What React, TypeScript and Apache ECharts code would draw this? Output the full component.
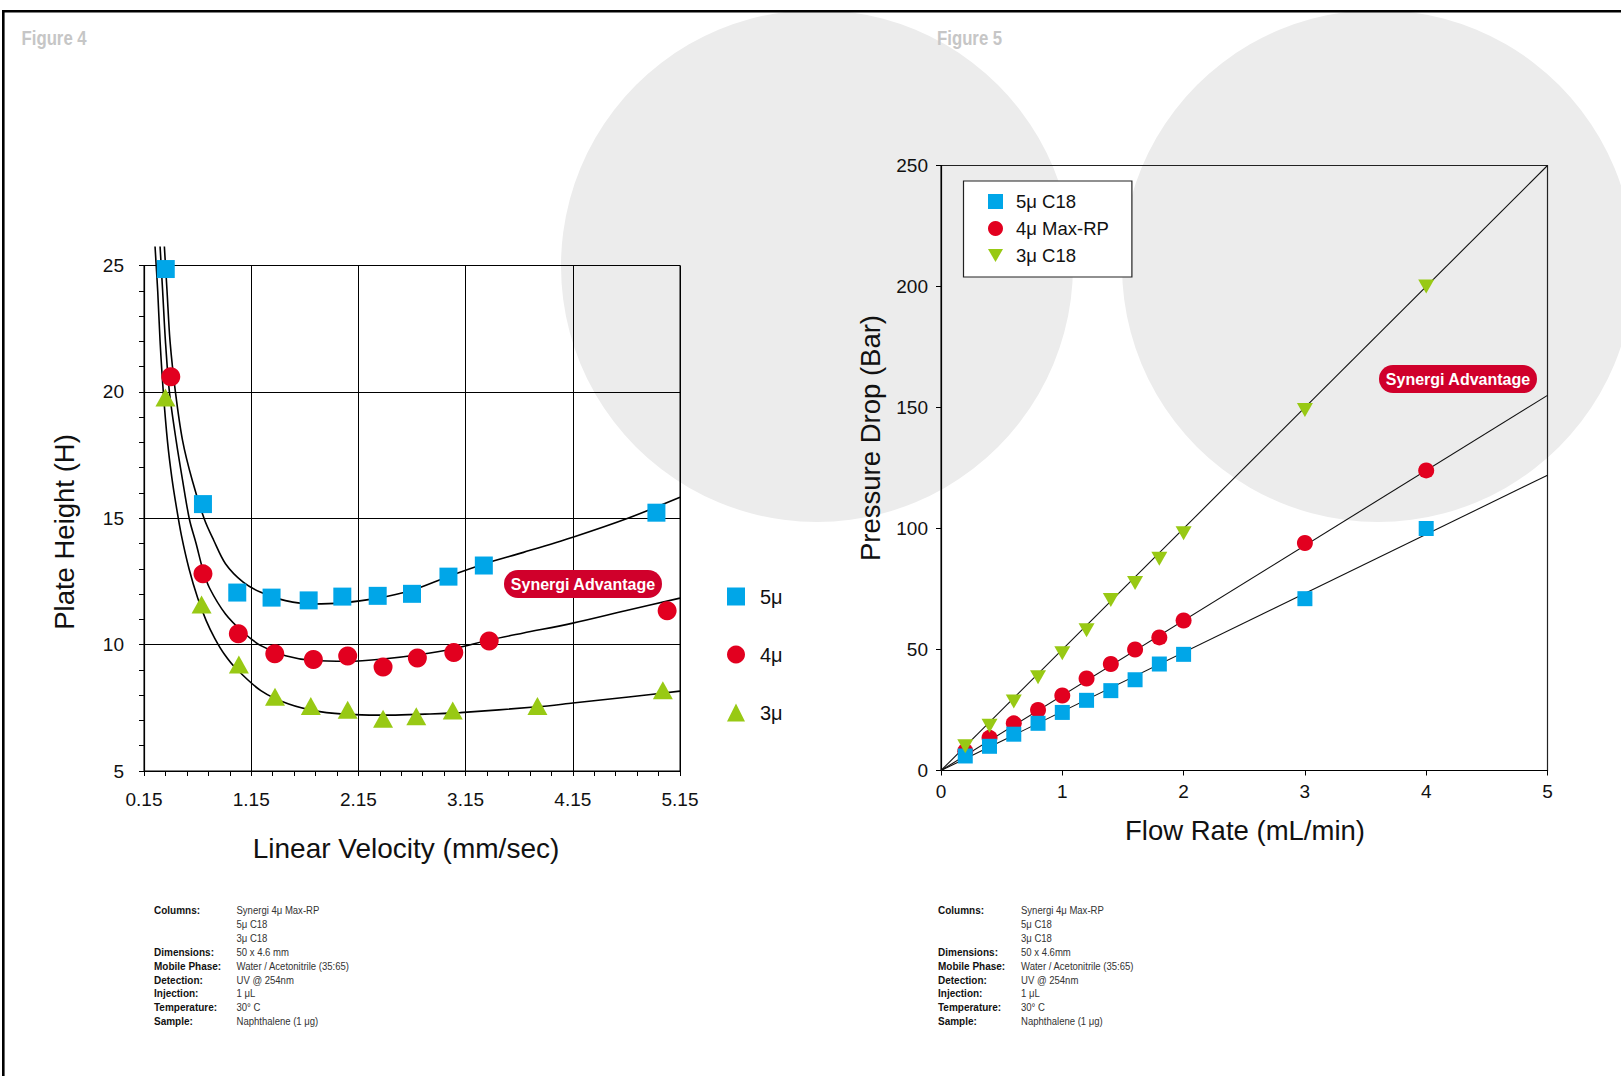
import React, { useEffect, useRef } from "react";
import * as echarts from "echarts";

// ---------- Figure 4 data (Linear velocity vs plate height) ----------
const pts5u: number[][] = [
  [0.353, 24.86], [0.7, 15.56], [1.02, 12.06], [1.34, 11.86], [1.686, 11.75], [2.0, 11.9],
  [2.33, 11.93], [2.65, 12.01], [2.99, 12.69], [3.32, 13.13], [4.93, 15.22],
];
const pts4u: number[][] = [
  [0.4, 20.6], [0.7, 12.8], [1.03, 10.43], [1.37, 9.64], [1.73, 9.41], [2.05, 9.55],
  [2.38, 9.11], [2.7, 9.47], [3.04, 9.69], [3.37, 10.14], [5.03, 11.34],
];
const pts3u: number[][] = [
  [0.35, 19.78], [0.687, 11.59], [1.035, 9.21], [1.372, 7.94], [1.706, 7.57], [2.05, 7.42],
  [2.38, 7.07], [2.69, 7.17], [3.03, 7.39], [3.82, 7.57], [4.99, 8.19],
];
const curve5u: number[][] = [
  [0.34, 25.75], [0.365, 23.98], [0.393, 22.0], [0.443, 20.0], [0.51, 18.07], [0.6, 16.5],
  [0.714, 14.95], [0.8, 14.13], [0.91, 13.2], [1.075, 12.47], [1.24, 12.07], [1.47, 11.74],
  [1.73, 11.61], [1.99, 11.65], [2.32, 11.83], [2.64, 12.14], [2.99, 12.7], [3.33, 13.2],
  [3.69, 13.65], [4.15, 14.25], [4.67, 15.01], [5.15, 15.83],
];
const curve4u: number[][] = [
  [0.3, 25.75], [0.324, 23.98], [0.35, 22.0], [0.387, 20.0], [0.45, 18.07], [0.51, 16.5],
  [0.574, 14.95], [0.636, 14.0], [0.7, 12.95], [0.76, 12.25], [0.91, 11.21], [1.075, 10.49],
  [1.24, 9.96], [1.47, 9.56], [1.73, 9.37], [2.055, 9.34], [2.38, 9.43], [2.71, 9.6],
  [3.04, 9.84], [3.38, 10.19], [3.69, 10.46], [4.15, 10.85], [4.64, 11.34], [5.15, 11.84],
];
const curve3u: number[][] = [
  [0.253, 25.75], [0.278, 23.98], [0.3, 22.0], [0.33, 20.0], [0.37, 18.0], [0.41, 16.6],
  [0.45, 15.5], [0.5, 14.3], [0.57, 13.0], [0.65, 11.85], [0.73, 10.95], [0.81, 10.25],
  [0.9, 9.62], [1.01, 9.05], [1.24, 8.18], [1.5, 7.65], [1.79, 7.35], [2.12, 7.23],
  [2.45, 7.21], [2.77, 7.25], [3.1, 7.31], [3.82, 7.54], [4.15, 7.69], [4.67, 7.93], [5.15, 8.16],
];

// ---------- Figure 5 data (Flow rate vs pressure drop) ----------
const flowRates = [0.2, 0.4, 0.6, 0.8, 1.0, 1.2, 1.4, 1.6, 1.8, 2.0, 3, 4];
const press5uC18 = [6, 10, 15, 19.5, 24, 29, 33, 37.5, 44, 48, 71, 100];
const press4uMaxRP = [8, 13.5, 19.5, 25, 31, 38, 44, 50, 55, 62, 94, 124];
const press3uC18 = [10, 18.5, 28.5, 38.5, 48.5, 58, 70.5, 77.5, 87.5, 98, 149, 200];
const fit5uC18 = [[0, 0], [5, 122]];
const fit4uMaxRP = [[0, 0], [5, 155]];
const fit3uC18 = [[0, 0], [5, 250]];

// ---------- texts ----------
const legendLeft = ["5μ", "4μ", "3μ"];
const legendRight = ["5μ C18", "4μ Max-RP", "3μ C18"];
const footLabels = ["Columns:", "", "", "Dimensions:", "Mobile Phase:", "Detection:", "Injection:", "Temperature:", "Sample:"];
const footValuesLeft = ["Synergi 4μ Max-RP", "5μ C18", "3μ C18", "50 x 4.6 mm", "Water / Acetonitrile (35:65)", "UV @ 254nm", "1 μL", "30° C", "Naphthalene (1 μg)"];
const footValuesRight = ["Synergi 4μ Max-RP", "5μ C18", "3μ C18", "50 x 4.6mm", "Water / Acetonitrile (35:65)", "UV @ 254nm", "1 μL", "30° C", "Naphthalene (1 μg)"];

const BLUE = "#00a6e8";
const RED = "#e2001f";
const GREEN = "#98c914";
const BADGE = "#d0002b";
const FONT = "'Liberation Sans', Arial, Helvetica, sans-serif";
const DOWN_TRIANGLE = "path://M0,0L16,0L8,14Z";

function zip(xs: number[], ys: number[]) {
  return xs.map((x, i) => [x, ys[i]]);
}

function footnote(x0: number, x1: number, values: string[]) {
  const els: any[] = [];
  footLabels.forEach((lab, i) => {
    const y = 910 + i * 13.85;
    if (lab) {
      els.push({
        type: "text", x: x0, y, scaleX: 0.87, z: 50,
        style: { text: lab, fontSize: 11.5, fontWeight: "bold", fontFamily: FONT, fill: "#111", align: "left", verticalAlign: "middle" },
      });
    }
    els.push({
      type: "text", x: x1, y, scaleX: 0.83, z: 50,
      style: { text: values[i], fontSize: 11.5, fontFamily: FONT, fill: "#333", align: "left", verticalAlign: "middle" },
    });
  });
  return els;
}

function badge(cx: number, cy: number) {
  return [
    { type: "rect", z: 60, shape: { x: cx - 79, y: cy - 14, width: 158, height: 28, r: 14 }, style: { fill: BADGE } },
    {
      type: "text", z: 61, x: cx, y: cy + 0.5,
      style: { text: "Synergi Advantage", fontSize: 16, fontWeight: "bold", fontFamily: FONT, fill: "#fff", align: "center", verticalAlign: "middle" },
    },
  ];
}

const axisText = { fontSize: 19, fontFamily: FONT, color: "#111" };

function buildOption(): any {
  return {
    animation: false,
    backgroundColor: "#fff",
    grid: [
      { left: 144, top: 265.5, width: 536, height: 505.5, show: true, borderColor: "#000", borderWidth: 1, backgroundColor: "transparent" },
      { left: 941, top: 165.5, width: 606.5, height: 605, show: true, borderColor: "#222", borderWidth: 1.2, backgroundColor: "transparent" },
    ],
    xAxis: [
      {
        gridIndex: 0, type: "value", min: 0.15, max: 5.15, interval: 1,
        axisLine: { show: true, onZero: false, lineStyle: { color: "#000", width: 1.2 } },
        axisTick: { show: true, length: 5, lineStyle: { color: "#000" } },
        minorTick: { show: true, splitNumber: 5, length: 5, lineStyle: { color: "#000" } },
        splitLine: { show: true, lineStyle: { color: "#000", width: 1 } },
        axisLabel: { ...axisText, margin: 19, formatter: (v: number) => v.toFixed(2) },
      },
      {
        gridIndex: 1, type: "value", min: 0, max: 5, interval: 1,
        axisLine: { show: true, onZero: false, lineStyle: { color: "#000", width: 1.2 } },
        axisTick: { show: true, length: 5, lineStyle: { color: "#000" } },
        splitLine: { show: false },
        axisLabel: { ...axisText, margin: 11 },
      },
    ],
    yAxis: [
      {
        gridIndex: 0, type: "value", min: 5, max: 25, interval: 5,
        axisLine: { show: true, onZero: false, lineStyle: { color: "#000", width: 1.2 } },
        axisTick: { show: true, length: 5, lineStyle: { color: "#000" } },
        minorTick: { show: true, splitNumber: 5, length: 5, lineStyle: { color: "#000" } },
        splitLine: { show: true, lineStyle: { color: "#000", width: 1 } },
        axisLabel: { ...axisText, margin: 20 },
      },
      {
        gridIndex: 1, type: "value", min: 0, max: 250, interval: 50,
        axisLine: { show: true, onZero: false, lineStyle: { color: "#000", width: 1.2 } },
        axisTick: { show: true, length: 5, lineStyle: { color: "#000" } },
        splitLine: { show: false },
        axisLabel: { ...axisText, margin: 13 },
      },
    ],
    legend: [
      {
        data: legendLeft, orient: "vertical", left: 727, top: 586.5, padding: 0, itemGap: 38,
        itemWidth: 18, itemHeight: 18, selectedMode: false,
        textStyle: { fontSize: 20, lineHeight: 20, fontFamily: FONT, color: "#111", padding: [0, 0, 0, 10] },
      },
      {
        data: legendRight.map((name, i) => (i === 2 ? { name, icon: DOWN_TRIANGLE } : { name })),
        orient: "vertical", left: 963.5, top: 181, padding: [11, 23, 12, 24.5], itemGap: 8,
        itemWidth: 15, itemHeight: 15, selectedMode: false, backgroundColor: "#fff", borderColor: "#222", borderWidth: 1.2,
        textStyle: { fontSize: 18.5, lineHeight: 19, fontFamily: FONT, color: "#111", padding: [0, 0, 0, 8] },
      },
    ],
    series: [
      // Figure 4 fitted curves
      ...[curve5u, curve4u, curve3u].map((c) => ({
        type: "line", xAxisIndex: 0, yAxisIndex: 0, data: c, smooth: 0.3, symbol: "none", clip: false,
        silent: true, z: 2, lineStyle: { color: "#000", width: 1.6 },
      })),
      { name: "5μ", type: "scatter", xAxisIndex: 0, yAxisIndex: 0, data: pts5u, symbol: "rect", symbolSize: 18, itemStyle: { color: BLUE, opacity: 1 }, z: 3 },
      { name: "4μ", type: "scatter", xAxisIndex: 0, yAxisIndex: 0, data: pts4u, symbol: "circle", symbolSize: 19, itemStyle: { color: RED, opacity: 1 }, z: 3 },
      { name: "3μ", type: "scatter", xAxisIndex: 0, yAxisIndex: 0, data: pts3u, symbol: "triangle", symbolSize: [20, 18], itemStyle: { color: GREEN, opacity: 1 }, z: 3 },
      // Figure 5 fit lines
      ...[fit5uC18, fit4uMaxRP, fit3uC18].map((c) => ({
        type: "line", xAxisIndex: 1, yAxisIndex: 1, data: c, symbol: "none", silent: true, z: 2,
        lineStyle: { color: "#111", width: 1.1 },
      })),
      { name: "4μ Max-RP", type: "scatter", xAxisIndex: 1, yAxisIndex: 1, data: zip(flowRates, press4uMaxRP), symbol: "circle", symbolSize: 16, itemStyle: { color: RED, opacity: 1 }, z: 3 },
      { name: "5μ C18", type: "scatter", xAxisIndex: 1, yAxisIndex: 1, data: zip(flowRates, press5uC18), symbol: "rect", symbolSize: 15, itemStyle: { color: BLUE, opacity: 1 }, z: 4 },
      { name: "3μ C18", type: "scatter", xAxisIndex: 1, yAxisIndex: 1, data: zip(flowRates, press3uC18), symbol: "triangle", symbolRotate: 180, symbolSize: [16, 14], itemStyle: { color: GREEN, opacity: 1 }, z: 5 },
    ],
    graphic: [
      { type: "circle", z: -10, silent: true, shape: { cx: 817, cy: 266, r: 256 }, style: { fill: "#ececec" } },
      { type: "circle", z: -10, silent: true, shape: { cx: 1378, cy: 266, r: 256 }, style: { fill: "#ececec" } },
      { type: "rect", z: 50, shape: { x: 2, y: 10, width: 1625, height: 2.6 }, style: { fill: "#000" } },
      { type: "rect", z: 50, shape: { x: 2, y: 10, width: 2.6, height: 1070 }, style: { fill: "#000" } },
      { type: "text", z: 50, x: 21.5, y: 39, scaleX: 0.86, style: { text: "Figure 4", fontSize: 19.5, fontWeight: "bold", fontFamily: FONT, fill: "#c6c6c6", align: "left", verticalAlign: "middle" } },
      { type: "text", z: 50, x: 937, y: 39, scaleX: 0.86, style: { text: "Figure 5", fontSize: 19.5, fontWeight: "bold", fontFamily: FONT, fill: "#c6c6c6", align: "left", verticalAlign: "middle" } },
      { type: "text", z: 50, x: 64, y: 532, rotation: Math.PI / 2, style: { text: "Plate Height (H)", fontSize: 27.5, fontFamily: FONT, fill: "#111", align: "center", verticalAlign: "middle" } },
      { type: "text", z: 50, x: 406, y: 848, style: { text: "Linear Velocity (mm/sec)", fontSize: 28, fontFamily: FONT, fill: "#111", align: "center", verticalAlign: "middle" } },
      { type: "text", z: 50, x: 870, y: 438, rotation: Math.PI / 2, style: { text: "Pressure Drop (Bar)", fontSize: 27.5, fontFamily: FONT, fill: "#111", align: "center", verticalAlign: "middle" } },
      { type: "text", z: 50, x: 1245, y: 830, style: { text: "Flow Rate (mL/min)", fontSize: 27.5, fontFamily: FONT, fill: "#111", align: "center", verticalAlign: "middle" } },
      ...badge(583, 584),
      ...badge(1458, 379),
      ...footnote(154, 236.5, footValuesLeft),
      ...footnote(938, 1021, footValuesRight),
    ],
  };
}

export default function App() {
  const ref = useRef<HTMLDivElement>(null);
  useEffect(() => {
    document.body.style.margin = "0";
    if (!ref.current) return;
    const chart = echarts.init(ref.current, null, { renderer: "svg" });
    chart.setOption(buildOption());
    return () => {
      chart.dispose();
    };
  }, []);
  return <div ref={ref} style={{ width: 1621, height: 1076 }} />;
}
